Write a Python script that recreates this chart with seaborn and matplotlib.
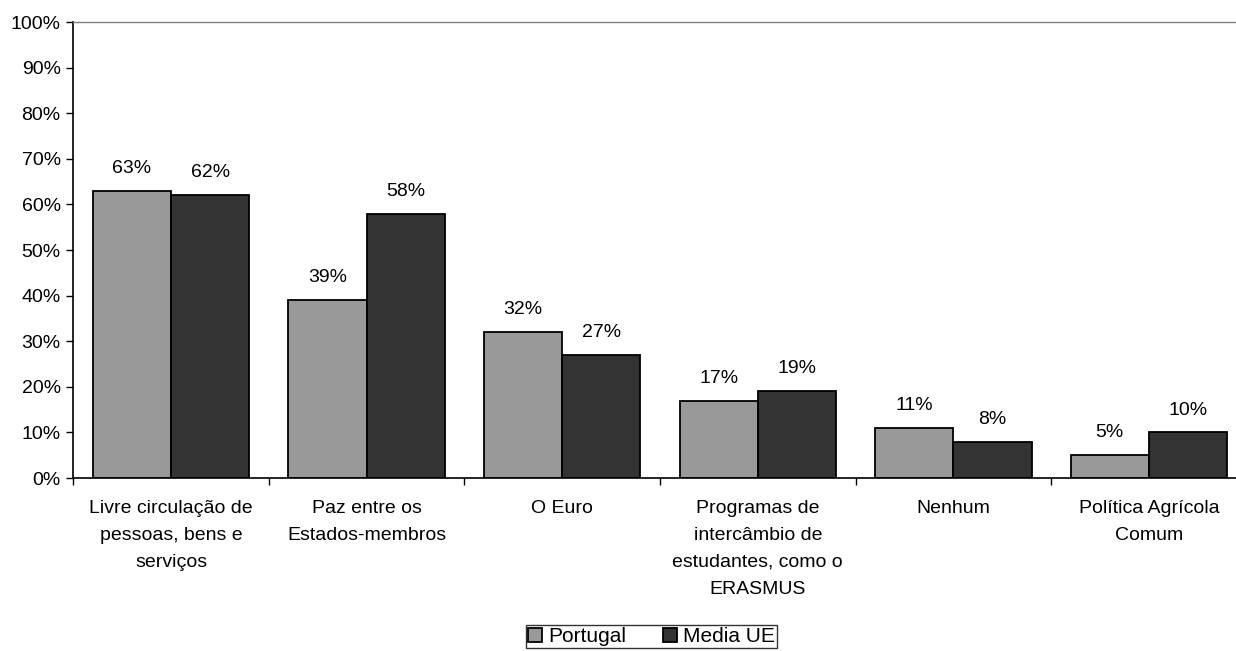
import pandas as pd
import matplotlib.pyplot as plt
import seaborn as sns
from matplotlib.ticker import FixedLocator, PercentFormatter

# dados do gráfico
categorias = [
    "Livre circulação de\npessoas, bens e\nserviços",
    "Paz entre os\nEstados-membros",
    "O Euro",
    "Programas de\nintercâmbio de\nestudantes, como o\nERASMUS",
    "Nenhum",
    "Política Agrícola\nComum",
]
portugal = [63, 39, 32, 17, 11, 5]
media_ue = [62, 58, 27, 19, 8, 10]
series = ["Portugal", "Media UE"]
cores = ["#999999", "#333333"]

df = pd.DataFrame({
    "categoria": categorias * 2,
    "valor": portugal + media_ue,
    "serie": [series[0]] * len(categorias) + [series[1]] * len(categorias),
})

sns.set_style("white")
plt.rcParams["font.family"] = ["Liberation Sans", "DejaVu Sans"]
plt.rcParams["font.size"] = 14
plt.rcParams["text.color"] = "black"
plt.rcParams["xtick.color"] = "black"
plt.rcParams["ytick.color"] = "black"

fig = plt.figure(figsize=(12.36, 6.51), dpi=100)
ax = fig.add_axes([0.0592, 0.2657, 0.9495, 0.7005])

sns.barplot(data=df, x="categoria", y="valor", hue="serie", order=categorias,
            hue_order=series, palette=cores, width=0.8, edgecolor="black",
            linewidth=1.3, saturation=1, ax=ax)

# rótulos de valor
for cont in ax.containers:
    ax.bar_label(cont, labels=[f"{v:.0f}%" for v in cont.datavalues],
                 padding=10, fontsize=14, color="black")

ax.set_xlim(-0.5, len(categorias) - 0.5)
ax.set_ylim(0, 100)
ax.set_yticks(range(0, 101, 10))
ax.yaxis.set_major_formatter(PercentFormatter(decimals=0))
ax.tick_params(axis="y", direction="out", length=5, width=1, color="black",
               left=True, labelsize=14, pad=4)
ax.tick_params(axis="x", which="major", length=0, labelsize=14, pad=16)
for lbl in ax.get_xticklabels():
    lbl.set_linespacing(1.75)
ax.xaxis.set_minor_locator(FixedLocator([i - 0.5 for i in range(len(categorias) + 1)]))
ax.tick_params(axis="x", which="minor", direction="out", length=5, width=1,
               color="black", bottom=True)
ax.set_xlabel("")
ax.set_ylabel("")

for s in ["left", "bottom"]:
    ax.spines[s].set_color("black")
    ax.spines[s].set_linewidth(1.2)
ax.spines["top"].set_color("#808080")
ax.spines["top"].set_linewidth(1)
ax.spines["right"].set_visible(False)

leg = ax.legend(loc="upper center", bbox_to_anchor=(0.4928, -0.322),
                borderaxespad=0, ncol=2, frameon=True, fancybox=False,
                edgecolor="black", fontsize=15, handlelength=0.65,
                handleheight=0.65, columnspacing=1.8, handletextpad=0.3,
                borderpad=0.1)
leg.get_frame().set_linewidth(1)

fig.savefig("out.png", dpi=100)
